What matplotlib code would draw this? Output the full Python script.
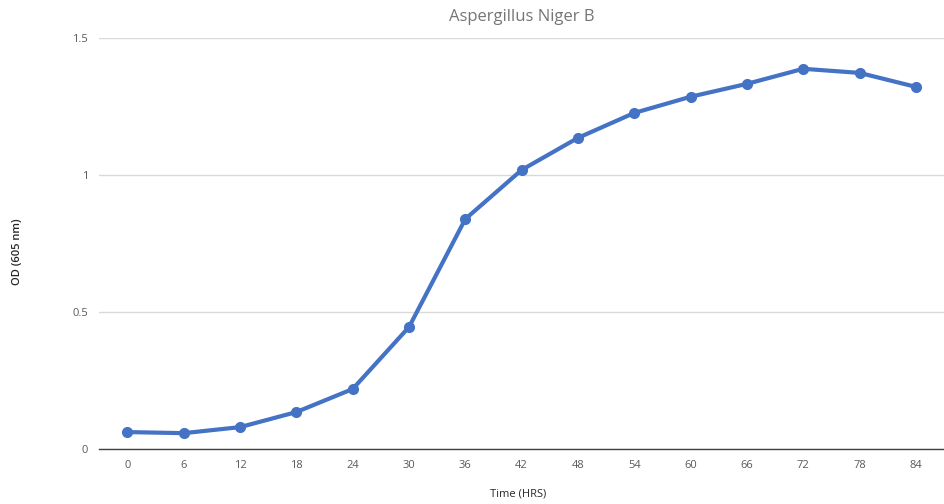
import numpy as np
import matplotlib
matplotlib.use('Agg')
import matplotlib.pyplot as plt

# data
hours = [0, 6, 12, 18, 24, 30, 36, 42, 48, 54, 60, 66, 72, 78, 84]
od = [0.062, 0.058, 0.080, 0.135, 0.219, 0.445, 0.839, 1.018, 1.135,
      1.226, 1.285, 1.332, 1.387, 1.372, 1.321]
y_ticks = [0, 0.5, 1, 1.5]
y_tick_labels = ['0', '0.5', '1', '1.5']

plt.rcParams['font.family'] = ['Open Sans', 'DejaVu Sans']

fig = plt.figure(figsize=(9.45, 5.04), dpi=100)
ax = fig.add_axes([0.105, 0.109, 0.894, 0.816])

x = np.arange(len(hours))
ax.plot(x, od, color='#4472C4', linewidth=3, marker='o', markersize=7, zorder=3)

# axis
ax.set_xlim(-0.5, len(hours) - 0.5)
ax.set_ylim(0, 1.5)
ax.set_xticks(x)
ax.set_xticklabels([str(h) for h in hours])
ax.set_yticks(y_ticks)
ax.set_yticklabels(y_tick_labels)
ax.tick_params(axis='both', length=0, labelsize=8, colors='#595959', pad=8)
ax.yaxis.grid(True, color='#D9D9D9', linewidth=1)
ax.set_axisbelow(True)
for s in ['top', 'right', 'left']:
    ax.spines[s].set_visible(False)
ax.spines['bottom'].set_color('#404040')
ax.spines['bottom'].set_linewidth(1)

ax.set_title('Aspergillus Niger B', fontsize=12, color='#757575', pad=12)
fig.text(0.019, 0.5, 'OD (605 nm)', rotation=90, ha='center', va='center',
         fontsize=8, color='#262626', fontweight='semibold')
fig.text(0.548, 0.02, 'Time (HRS)', ha='center', va='center',
         fontsize=8, color='#262626')

fig.savefig('out.png', dpi=100)
